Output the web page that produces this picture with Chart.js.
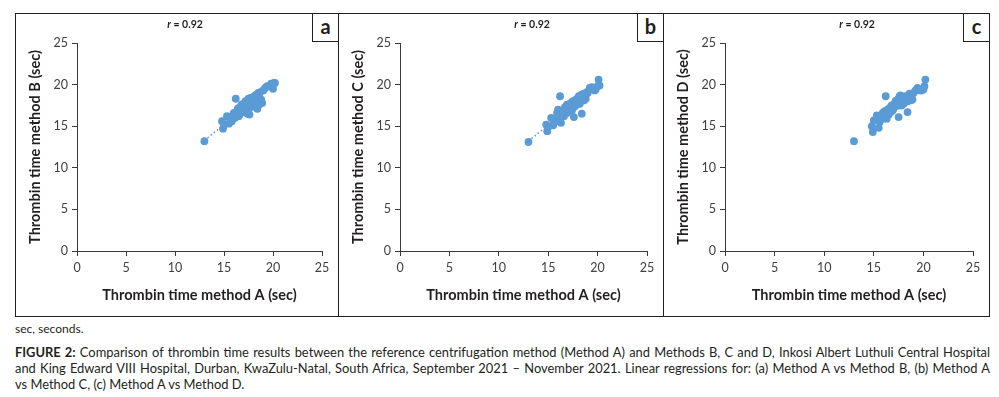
<!DOCTYPE html>
<html>
<head>
<meta charset="utf-8">
<script src="https://cdn.jsdelivr.net/npm/chart.js@4"></script>
<style>
  html, body { margin: 0; padding: 0; background: #fff; }
  body { width: 999px; height: 397px; position: relative; overflow: hidden; font-family: Lato, "Open Sans", sans-serif; color: #231f20; }
  .panel { position: absolute; top: 13px; height: 304px; border: 1px solid #231f20; box-sizing: border-box; }
  .panel canvas { position: absolute; left: 0; top: 0; }
  .tag { position: absolute; right: -1px; top: -1px; width: 27px; height: 29px; border: 1px solid #231f20; box-sizing: border-box;
         font: bold 20px Lato, "Liberation Sans", sans-serif; text-align: center; line-height: 25px; background: #fff; }
  .rval { position: absolute; top: 18px; font: bold 10.5px Lato, "Liberation Sans", sans-serif; transform: translateX(-50%); white-space: nowrap; }
  .note { position: absolute; left: 15px; font-family: Lato, sans-serif; font-size: 12px; color: #231f20; }
  .cap { position: absolute; left: 15px; width: 975px; font-family: Lato, sans-serif; font-size: 12.9px; line-height: 16px; color: #231f20; }
  .cap div { text-align: justify; text-align-last: justify; white-space: nowrap; }
  .cap div.last { text-align-last: left; }
</style>
</head>
<body>
<div class="panel" id="pa" style="left:15px;width:324px;"><canvas id="ca"></canvas><div class="tag">a</div></div>
<div class="panel" id="pb" style="left:338px;width:326px;"><canvas id="cb"></canvas><div class="tag">b</div></div>
<div class="panel" id="pc" style="left:663px;width:327px;"><canvas id="cc"></canvas><div class="tag">c</div></div>
<div class="rval" style="left:185px;"><i>r</i> = 0.92</div>
<div class="rval" style="left:532px;"><i>r</i> = 0.92</div>
<div class="rval" style="left:857px;"><i>r</i> = 0.92</div>
<div class="note" style="top:321px;">sec, seconds.</div>
<div class="cap" style="top:344px;">
  <div><b>FIGURE 2:</b> Comparison of thrombin time results between the reference centrifugation method (Method A) and Methods B, C and D, Inkosi Albert Luthuli Central Hospital</div>
  <div>and King Edward VIII Hospital, Durban, KwaZulu-Natal, South Africa, September 2021 – November 2021. Linear regressions for: (a) Method A vs Method B, (b) Method A</div>
  <div class="last">vs Method C, (c) Method A vs Method D.</div>
</div>
<script>
// thrombin time, method A (shared x values)
const methodA = [13.0, 14.9, 14.8, 15.0, 15.3, 15.5, 15.6, 15.8, 16.0, 16.2, 16.1, 16.3, 16.4, 16.5, 16.6, 16.7, 16.8, 16.9, 17.0, 17.0,
                 17.1, 17.2, 17.2, 17.3, 17.4, 17.5, 17.5, 17.6, 17.6, 17.7, 17.8, 17.9, 18.0, 18.0, 18.1, 18.2, 18.3, 18.4, 18.4, 18.5,
                 18.6, 18.7, 18.8, 18.9, 19.0, 19.2, 19.4, 19.7, 20.0, 20.1, 20.2, 19.8, 16.6, 17.3, 17.8, 15.9, 16.9, 17.4, 18.2, 18.6];
const methodB = [13.2, 14.7, 15.6, 15.2, 16.2, 15.3, 16.0, 15.6, 16.6, 18.3, 16.0, 16.7, 17.1, 16.2, 17.3, 16.6, 17.6, 16.9, 17.7, 16.7,
                 17.3, 16.9, 18.0, 17.5, 16.5, 17.2, 18.3, 16.4, 17.9, 18.4, 17.3, 18.2, 17.5, 18.1, 18.6, 17.4, 18.8, 17.1, 18.4, 19.0,
                 18.5, 19.1, 18.2, 17.8, 19.3, 19.6, 19.8, 19.9, 19.5, 20.2, 20.2, 20.1, 16.4, 17.8, 18.3, 16.3, 17.0, 16.8, 17.7, 17.6];
const methodC = [13.1, 14.4, 15.2, 14.9, 16.0, 15.1, 15.7, 15.6, 17.0, 18.6, 16.1, 15.4, 16.2, 16.9, 16.5, 17.3, 16.7, 17.6, 16.9, 17.2,
                 17.4, 17.7, 16.8, 17.5, 16.9, 18.0, 17.2, 16.1, 17.8, 17.4, 18.2, 17.6, 18.4, 17.9, 18.6, 18.0, 18.7, 16.5, 18.8, 18.2,
                 18.9, 18.5, 18.3, 19.1, 19.0, 19.6, 19.7, 19.3, 19.8, 20.6, 19.9, 19.4, 16.2, 17.0, 18.1, 16.6, 16.6, 17.9, 17.7, 18.1];
const methodD = [13.2, 14.3, 15.0, 15.7, 16.3, 14.8, 15.5, 16.1, 15.9, 18.6, 16.8, 15.9, 17.0, 16.4, 17.2, 16.7, 17.5, 17.0, 17.6, 17.2,
                 17.7, 17.4, 18.0, 17.6, 17.9, 18.3, 16.1, 17.5, 18.6, 18.7, 18.0, 18.3, 17.7, 18.5, 17.9, 18.6, 18.2, 16.7, 18.0, 18.5,
                 18.3, 18.1, 18.6, 18.2, 19.0, 19.3, 19.6, 19.3, 19.4, 19.8, 20.6, 19.3, 17.1, 18.1, 17.5, 16.6, 16.9, 17.8, 18.4, 18.9];
// dotted trend lines (end points)
const trendAB = [[13.0, 13.3], [20.2, 20.1]];
const trendAC = [[13.0, 13.2], [20.2, 20.2]];
const axisTicks = [0, 5, 10, 15, 20, 25];

const blue = '#5b9bd5';
const ink = '#231f20';

function pairs(xs, ys) {
    return xs.map((x, i) => ({ x: x, y: ys[i] }));
}

function makeChart(id, panelId, ys, trend, yTitle) {
    const panel = document.getElementById(panelId);
    const canvas = document.getElementById(id);
    canvas.width = panel.clientWidth;
    canvas.height = panel.clientHeight;
    const datasets = [{
        type: 'scatter',
        data: pairs(methodA, ys),
        backgroundColor: blue,
        borderWidth: 0,
        pointRadius: 3.9,
        order: 1
    }];
    if (trend) {
        datasets.push({
            type: 'line',
            data: trend.map(p => ({ x: p[0], y: p[1] })),
            borderColor: blue,
            borderWidth: 1.5,
            borderDash: [1.5, 2.5],
            pointRadius: 0,
            fill: false,
            order: 2
        });
    }
    return new Chart(canvas.getContext('2d'), {
        data: { datasets: datasets },
        options: {
            responsive: false,
            animation: false,
            devicePixelRatio: 1,
            layout: { padding: { left: 0, right: 16, top: 29, bottom: 0 } },
            plugins: { legend: { display: false }, tooltip: { enabled: false } },
            scales: {
                x: {
                    type: 'linear',
                    min: 0,
                    max: 25,
                    afterBuildTicks: s => { s.ticks = axisTicks.map(v => ({ value: v })); },
                    afterFit: s => { s.height = 65; },
                    grid: { drawOnChartArea: false, drawTicks: true, tickLength: 5, color: '#3a3a3a' },
                    border: { display: true, color: '#3a3a3a', width: 1 },
                    ticks: { color: '#404040', font: { family: 'Lato', size: 12.5 }, padding: 4, maxRotation: 0 },
                    title: { display: true, text: 'Thrombin time method A (sec)', color: ink,
                             font: { family: 'Lato', size: 14.5, weight: 'bold' }, padding: { top: 0, bottom: 12 } }
                },
                y: {
                    type: 'linear',
                    min: 0,
                    max: 25,
                    afterBuildTicks: s => { s.ticks = axisTicks.map(v => ({ value: v })); },
                    afterFit: s => { s.width = 61; },
                    grid: { drawOnChartArea: false, drawTicks: true, tickLength: 5, color: '#3a3a3a' },
                    border: { display: true, color: '#3a3a3a', width: 1 },
                    ticks: { color: '#404040', font: { family: 'Lato', size: 12.5 }, padding: 4 },
                    title: { display: true, text: yTitle, color: ink,
                             font: { family: 'Lato', size: 14.5, weight: 'bold' }, padding: { top: 11, bottom: 0 } }
                }
            }
        }
    });
}

makeChart('ca', 'pa', methodB, trendAB, 'Thrombin time method B (sec)');
makeChart('cb', 'pb', methodC, trendAC, 'Thrombin time method C (sec)');
makeChart('cc', 'pc', methodD, null, 'Thrombin time method D (sec)');
</script>
</body>
</html>
